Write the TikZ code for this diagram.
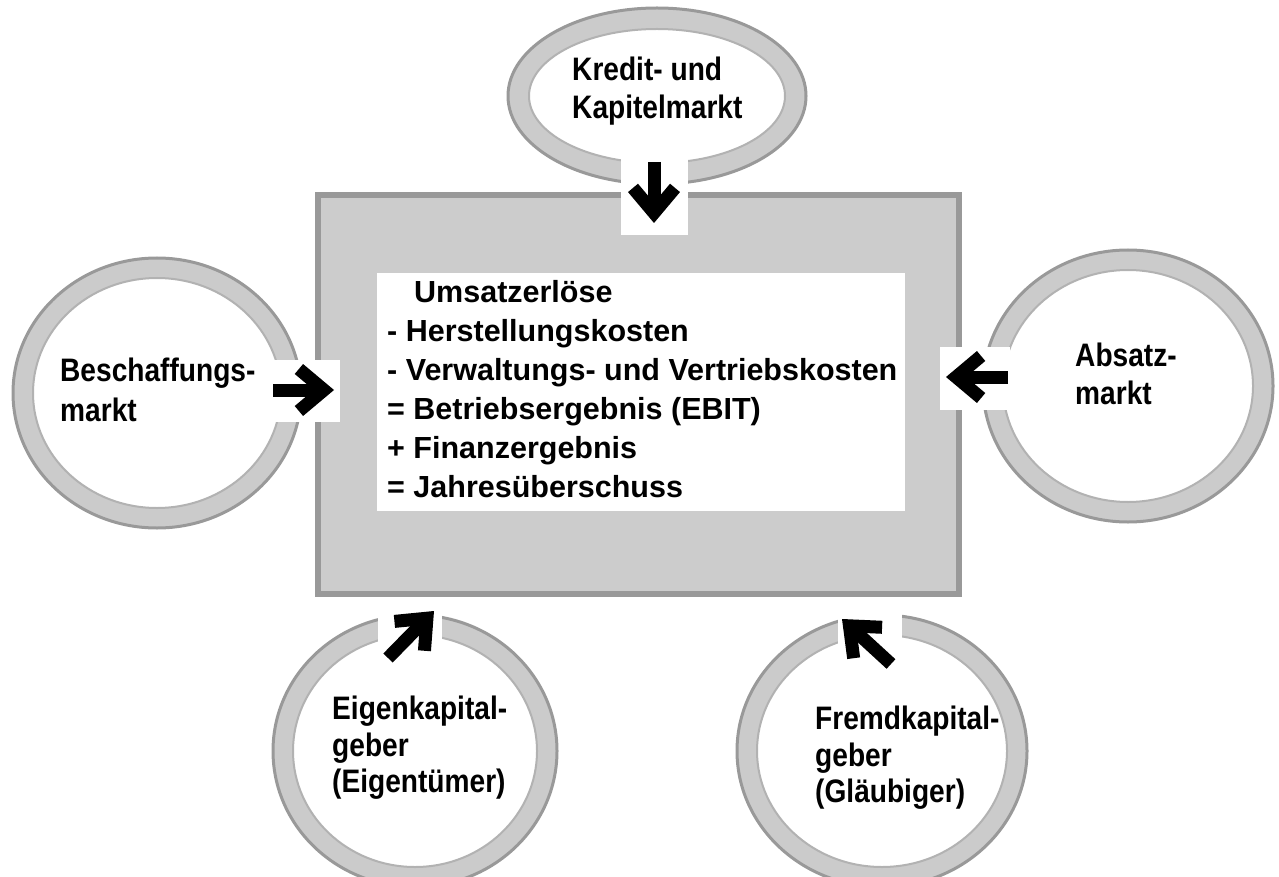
\documentclass[tikz,border=0pt]{standalone}
\usepackage{fontspec}
\setmainfont{Liberation Sans}
\newfontfamily\ringfont[FakeStretch=0.865]{Liberation Sans}
\usetikzlibrary{arrows.meta}
\definecolor{boxgray}{HTML}{CCCCCC}
\definecolor{linegray}{HTML}{999999}
\definecolor{ringgray}{HTML}{CBCBCB}
\begin{document}
\begin{tikzpicture}[x=1pt,y=-1pt,
		ring/.style={fill=ringgray,draw=linegray,line width=3pt},
		hole/.style={fill=white,draw=linegray!75,line width=2pt},
		gap/.style={fill=white},
		pfeil/.style={line width=13pt,-{Straight Barb[length=25pt,width=42pt]}},
		marktlabel/.style={align=left,inner sep=0pt,anchor=north west,font=\ringfont\bfseries\fontsize{32.5}{38}\selectfont},
		erglabel/.style={align=left,inner sep=0pt,anchor=north west,font=\bfseries\fontsize{30.5}{39}\selectfont}]
		\useasboundingbox (0,0) rectangle (1279,877);
		\fill[white] (0,0) rectangle (1279,877);
		\draw[ring] (657,96) ellipse [x radius=149,y radius=88];
		\draw[hole] (657,96) ellipse [x radius=128,y radius=67];
		\draw[ring] (157,393) ellipse [x radius=144,y radius=135];
		\draw[hole] (157,393) ellipse [x radius=124,y radius=115];
		\draw[ring] (1128,386) ellipse [x radius=145,y radius=136];
		\draw[hole] (1128,386) ellipse [x radius=125,y radius=116];
		\draw[ring] (415,751) ellipse [x radius=142,y radius=136];
		\draw[hole] (415,751) ellipse [x radius=122,y radius=116];
		\draw[ring] (882,751) ellipse [x radius=145,y radius=136];
		\draw[hole] (882,751) ellipse [x radius=125,y radius=116];
		\draw[fill=boxgray,draw=linegray,line width=6pt] (318,195) rectangle (959,594);
		\fill[white] (377,273) rectangle (905,511);
		\fill[gap] (621,150) rectangle (688,235);
		\fill[gap] (270,360) rectangle (340,422);
		\fill[gap] (940,347) rectangle (1010,410);
		\fill[gap] (378,600) rectangle (442,660);
		\fill[gap] (838,600) rectangle (902,660);
		\node[marktlabel] (kredit) at (572,57) {Kredit- und\\Kapitelmarkt};
		\node[marktlabel] (beschaffung) at (60,358) {Beschaffungs-\\[2pt]markt};
		\node[marktlabel] (absatz) at (1075,343) {Absatz-\\markt};
		\node[marktlabel] (ekgeber) at (332,696) {Eigenkapital-\\[-1.5pt]geber\\[-1.5pt](Eigentümer)};
		\node[marktlabel] (fkgeber) at (815,706) {Fremdkapital-\\[-1.5pt]geber\\[-1.5pt](Gläubiger)};
		\node[erglabel] (erg) at (387,280) {\hspace*{27pt}Umsatzerlöse\\- Herstellungskosten\\- Verwaltungs- und Vertriebskosten\\= Betriebsergebnis (EBIT)\\+ Finanzergebnis\\= Jahresüberschuss};
		\coordinate (kredit-a) at (654,162);
		\coordinate (kredit-b) at (654,223);
		\coordinate (beschaffung-a) at (273,390);
		\coordinate (beschaffung-b) at (334,390);
		\coordinate (absatz-a) at (1008,377);
		\coordinate (absatz-b) at (946,377);
		\coordinate (ekgeber-a) at (388,658);
		\coordinate (ekgeber-b) at (434,611);
		\coordinate (fkgeber-a) at (891,664);
		\coordinate (fkgeber-b) at (842,619);
		\draw[pfeil] (kredit-a) -- (kredit-b);
		\draw[pfeil] (beschaffung-a) -- (beschaffung-b);
		\draw[pfeil] (absatz-a) -- (absatz-b);
		\draw[pfeil] (ekgeber-a) -- (ekgeber-b);
		\draw[pfeil] (fkgeber-a) -- (fkgeber-b);
\end{tikzpicture}
\end{document}
